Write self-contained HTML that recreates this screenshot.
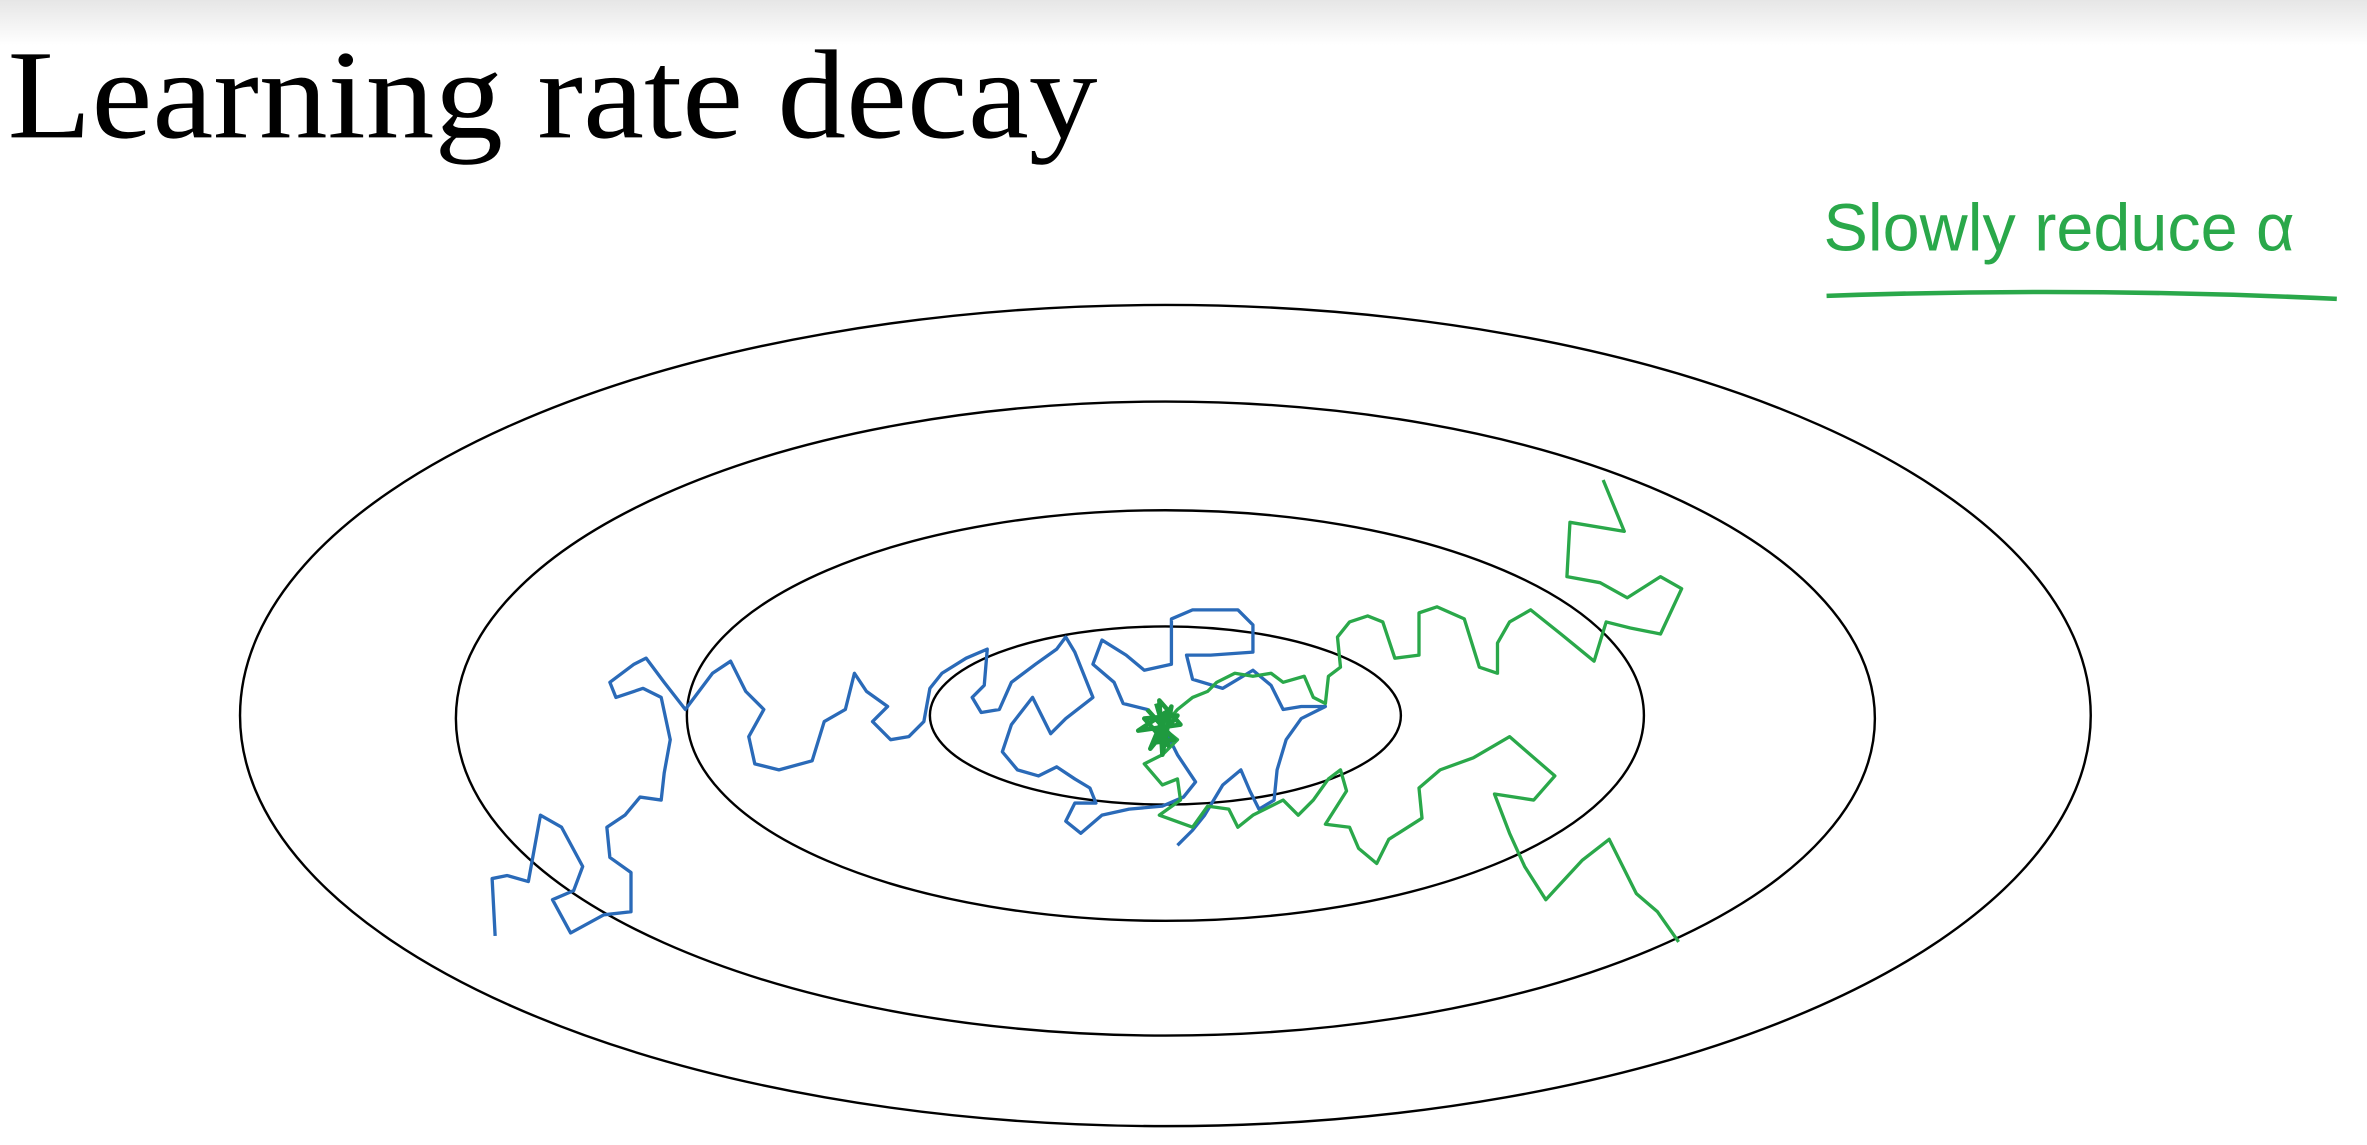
<!DOCTYPE html>
<html><head><meta charset="utf-8"><style>
html,body{margin:0;padding:0;background:#fff;}
svg{display:block;}
</style></head><body>
<svg id="fig" width="2367" height="1145" viewBox="0 0 1568 758.5" xmlns="http://www.w3.org/2000/svg">
<defs><linearGradient id="tg" x1="0" y1="0" x2="0" y2="1"><stop offset="0" stop-color="#e6e6e6"/><stop offset="1" stop-color="#ffffff"/></linearGradient></defs>
<rect x="0" y="0" width="1568" height="30" fill="url(#tg)"/>
<text x="5" y="91" font-family="Liberation Serif, serif" font-size="84" textLength="722" lengthAdjust="spacingAndGlyphs" fill="#000">Learning rate decay</text>
<g fill="none" stroke="#000" stroke-width="1.6">
<ellipse cx="772" cy="474" rx="613" ry="272"/>
<ellipse cx="772" cy="476" rx="470" ry="210"/>
<ellipse cx="772" cy="474" rx="317" ry="136"/>
<ellipse cx="772" cy="474" rx="156" ry="59"/>
</g>
<text x="1208" y="166" font-family="Liberation Sans, sans-serif" font-size="44" fill="#2aa84a" textLength="312" lengthAdjust="spacingAndGlyphs">Slowly  reduce α</text>
<path d="M1210 196 Q1380 190 1548 198" fill="none" stroke="#2aa84a" stroke-width="3"/>
<g id="paths"></g>
</svg>
<script>
const bluePts = [[328,620],[326,582],[336,580],[350,584],[358,540],[372,548],[386,574],[380,590],[366,596],[378,618],[400,606],[418,604],[418,578],[404,568],[402,548],[414,540],[424,528],[438,530],[440,512],[444,490],[438,462],[426,456],[408,462],[404,452],[420,440],[428,436],[440,452],[454,470],[472,446],[484,438],[494,458],[506,470],[496,488],[500,506],[516,510],[538,504],[546,478],[560,470],[566,446],[574,458],[588,468],[578,478],[590,490],[602,488],[612,478],[616,456],[624,446],[640,436],[654,430],[652,454],[644,462],[650,472],[662,470],[670,452],[686,440],[700,430],[706,422],[712,432],[716,442],[724,462],[706,476],[696,486],[684,462],[670,480],[664,498],[674,510],[688,514],[700,508],[712,516],[722,522],[726,532],[712,532],[706,544],[716,552],[730,540],[748,536],[770,534],[784,528],[792,518],[780,500],[772,484],[760,470],[744,466],[738,452],[724,440],[730,424],[746,434],[758,444],[776,440],[776,410],[790,404],[820,404],[830,414],[830,432],[802,434],[786,434],[790,450],[810,456],[830,444],[842,454],[850,470],[862,468],[878,468],[862,476],[852,490],[846,510],[844,530],[834,536],[828,524],[822,510],[810,520],[798,540],[790,550],[780,560]];
const greenPts = [[1062,318],[1076,352],[1040,346],[1038,382],[1060,386],[1078,396],[1100,382],[1114,390],[1100,420],[1080,416],[1064,412],[1056,438],[1034,420],[1014,404],[1000,412],[992,426],[992,446],[980,442],[970,410],[952,402],[940,406],[940,434],[924,436],[916,412],[906,408],[894,412],[886,422],[888,442],[880,448],[878,466],[870,462],[864,448],[850,452],[842,446],[830,448],[818,446],[806,452],[800,458],[790,462],[780,470],[770,482],[780,490],[770,500],[758,506],[770,520],[780,516],[782,530],[768,540],[790,548],[800,534],[814,536],[820,548],[830,540],[850,530],[860,540],[870,530],[880,516],[888,510],[892,524],[878,546],[894,548],[900,562],[912,572],[920,556],[942,542],[940,522],[954,510],[976,502],[1000,488],[1030,514],[1016,530],[990,526],[1000,552],[1010,574],[1024,596],[1048,570],[1066,556],[1084,592],[1098,604],[1112,624]];
const blobPts = [[760,470],[778,490],[764,492],[776,468],[770,500],[768,464],[782,480],[754,484],[772,472],[762,496],[780,474],[758,476],[774,494],[766,466]];
function draw(pts, color, w, name){
  const p = document.createElementNS('http://www.w3.org/2000/svg','path');
  p.setAttribute('d', 'M' + pts.map(q => q[0] + ' ' + q[1]).join(' L'));
  p.setAttribute('fill','none');
  p.setAttribute('stroke', color);
  p.setAttribute('stroke-width', w);
  p.setAttribute('stroke-linejoin','round');
  
  
  document.getElementById('paths').appendChild(p);
}
draw(bluePts, '#2a6ab8', 2.2, 'sgd-path-constant-rate');
draw(greenPts, '#2aa84a', 2.2, 'sgd-path-decaying-rate');
draw(blobPts, '#1f9a3f', 3, 'convergence-blob');
</script>
</body></html>
